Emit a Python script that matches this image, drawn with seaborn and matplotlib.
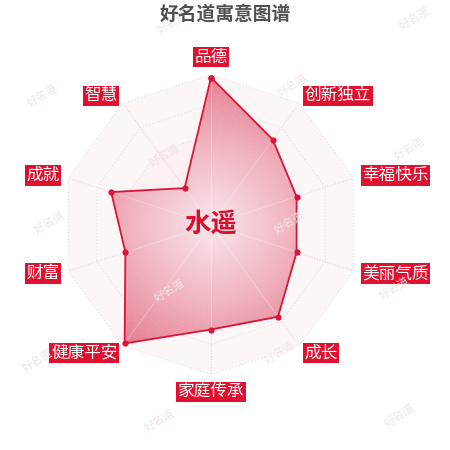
import numpy as np
import pandas as pd
import matplotlib
matplotlib.use("Agg")
import matplotlib.pyplot as plt
from matplotlib.colors import LinearSegmentedColormap
import seaborn as sns

# 维度与分值 (顺时针, 从正上方开始)
dims = ["品德", "创新独立", "幸福快乐", "美丽气质", "成长",
        "家庭传承", "健康平安", "财富", "成就", "智慧"]
scores = [98, 70, 60, 60, 76, 70, 98, 60, 70, 30]
name = "水遥"
title = "好名道寓意图谱"
levels = [20, 40, 60, 80, 100]

RED = "#e0102f"

sns.set_theme(style="white")
plt.rcParams["font.family"] = ["Noto Sans CJK SC", "DejaVu Sans"]

n = len(dims)
theta = np.arange(n) * 2 * np.pi / n
df = pd.DataFrame({"theta": np.append(theta, 2 * np.pi),
                   "score": scores + scores[:1]})

fig = plt.figure(figsize=(4.5, 4.5), dpi=100)
fig.patch.set_facecolor("white")
ax = fig.add_axes([61 / 450, 75.5 / 450, 300 / 450, 300 / 450], projection="polar")
ax.set_theta_zero_location("N")
ax.set_theta_direction(-1)
ax.set_ylim(0, 100)
ax.set_facecolor("none")
ax.grid(False)
ax.spines["polar"].set_visible(False)
ax.set_xticks([])
ax.set_yticks([])

# 背景淡色填充
ax.fill(df["theta"], [100] * (n + 1), color="#fdf6f7", zorder=0, lw=0)
ax.fill(df["theta"], [60] * (n + 1), color="#fcf0f2", zorder=0, lw=0)

# 网格
for lv in levels:
    ax.plot(df["theta"], [lv] * (n + 1), color="#e2e2e2", lw=0.8, ls=(0, (1, 2)), zorder=1)
for t in theta:
    ax.plot([t, t], [0, 100], color="#f2bcc6", lw=0.8, ls=(0, (1, 1.5)), zorder=1)

# 渐变填充, 裁剪到数据多边形
poly = ax.fill(df["theta"], df["score"], facecolor="none", edgecolor="none")[0]
tt, rr = np.meshgrid(np.linspace(0, 2 * np.pi, 200), np.linspace(0, 100, 100))
cmap = LinearSegmentedColormap.from_list("pink", ["#fae6ea", "#f1b6c1", "#e47b8f"])
mesh = ax.pcolormesh(tt, rr, rr, cmap=cmap, shading="auto", zorder=2, alpha=0.95)
mesh.set_clip_path(poly)
for t in theta:
    ax.plot([t, t], [0, 100], color="white", lw=0.6, alpha=0.35, zorder=2.5)

sns.lineplot(data=df, x="theta", y="score", sort=False, ax=ax, color="#dc1437",
             lw=1.3, marker="o", markersize=4.5, markeredgewidth=0, zorder=3)
ax.set_xlabel("")
ax.set_ylabel("")

# 维度标签
for t, lab in zip(theta, dims):
    s, c = np.sin(t), np.cos(t)
    ha = "center" if abs(s) < 0.1 else ("left" if s > 0 else "right")
    if abs(s) < 0.1:
        va = "bottom" if c > 0 else "top"
    else:
        va = "center"
    ax.text(t, 106, lab, color="white", fontsize=12, ha=ha, va=va, zorder=5,
            clip_on=False,
            bbox=dict(boxstyle="square,pad=0.1", fc=RED, ec="none"))

ax.text(0, 0, name, color="#d8102f", fontsize=19, fontweight="bold",
        ha="center", va="center", zorder=6)

fig.text(0.5, 1 - 14 / 450, title, color="#505050", fontsize=13.5, fontweight="bold",
         ha="center", va="center")

# 水印
marks = [(173, 22), (415, 18), (43, 95), (293, 85), (165, 155), (410, 148),
         (50, 222), (290, 222), (170, 290), (395, 288), (38, 360), (280, 352),
         (160, 420), (400, 415)]
for x, y in marks:
    fig.text(x / 450, 1 - y / 450, "好名道", color="#f1e3e5", fontsize=8,
             rotation=32, ha="center", va="center", zorder=0)

fig.savefig("out.png", dpi=100, facecolor="white")
